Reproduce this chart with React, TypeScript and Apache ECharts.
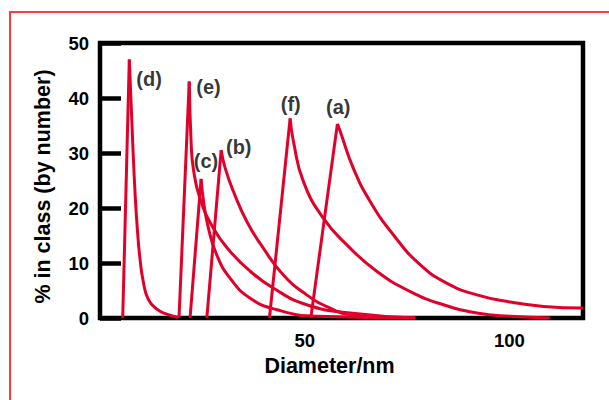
import React, { useEffect, useRef } from "react";
import * as echarts from "echarts";

// Diameter (nm) vs % in class (by number)
const curveD = [[5.55, 0], [7.16, 47.0], [7.99, 31.9], [8.56, 22.8], [9.13, 16.1], [9.78, 10.7], [10.6, 6.5], [11.8, 3.4], [13.9, 1.6], [16.3, 0.7], [19.1, 0.1]];
const curveE = [[19.3, 0], [21.8, 43.0], [22.25, 32.1], [22.8, 27.2], [24.4, 21.8], [27.7, 16.3], [31.8, 12.1], [36.7, 8.5], [42.4, 5.4], [50.5, 2.4], [61.1, 0.9], [77, 0]];
const curveC = [[22.0, 0], [24.7, 25.3], [25.3, 21.2], [26.5, 16.3], [28.5, 11.5], [31.8, 7.2], [36.7, 3.6], [43.2, 1.5], [53.0, 0.3], [77, 0]];
const curveB = [[26.1, 0], [29.6, 30.5], [30.6, 27.2], [32.6, 23.0], [35.9, 17.5], [39.9, 12.7], [44.8, 7.8], [50.5, 4.2], [56.2, 1.8], [61.1, 0.6], [77, 0]];
const curveF = [[41.4, 0], [46.45, 36.3], [47.26, 32.1], [49.7, 24.8], [54.6, 18.1], [60.3, 13.3], [67.6, 8.5], [75.8, 4.8], [83.9, 2.4], [92.1, 0.9], [100.2, 0.3], [110, 0]];
const curveA = [[51.5, 0], [58.0, 35.3], [58.7, 33.9], [61.9, 27.2], [66.0, 21.2], [71.7, 15.1], [78.2, 9.7], [84.8, 6.3], [92.1, 4.2], [100.2, 2.9], [108.4, 2.1], [118, 1.8]];

const curves = [
  { name: "(a)", pts: curveA },
  { name: "(b)", pts: curveB },
  { name: "(c)", pts: curveC },
  { name: "(d)", pts: curveD },
  { name: "(e)", pts: curveE },
  { name: "(f)", pts: curveF },
];

// curve label anchors [diameter, percent, text]
const labelPoints = [
  [58.2, 38.4, "(a)"],
  [33.9, 31.1, "(b)"],
  [25.9, 28.5, "(c)"],
  [12.0, 43.5, "(d)"],
  [26.5, 42.0, "(e)"],
  [46.6, 39.0, "(f)"],
];

const xTickLabels = [50, 100];
const xMin = 0;
const xMax = 118;
const yMin = 0;
const yMax = 50;

const RED = "#e0002a";
const FONT = "'Liberation Sans', Arial, sans-serif";

export default function App() {
  const ref = useRef<HTMLDivElement>(null);
  useEffect(() => {
    if (!ref.current) return;
    const chart = echarts.init(ref.current, null, { renderer: "svg" });
    const series: any[] = [];
    curves.forEach((c) => {
      let peak = 0;
      c.pts.forEach((p, i) => {
        if (p[1] > c.pts[peak][1]) peak = i;
      });
      series.push({
        name: c.name + " rise",
        type: "line",
        data: c.pts.slice(0, peak + 1),
        symbol: "none",
        smooth: false,
        silent: true,
        lineStyle: { color: RED, width: 3 },
        z: 3,
      });
      series.push({
        name: c.name,
        type: "line",
        data: c.pts.slice(peak),
        symbol: "none",
        smooth: 0.5,
        silent: true,
        lineStyle: { color: RED, width: 3 },
        z: 3,
      });
    });
    series.push({
      type: "scatter",
      data: labelPoints,
      symbolSize: 1,
      itemStyle: { color: "transparent" },
      silent: true,
      label: {
        show: true,
        position: "inside",
        formatter: (p: any) => p.value[2],
        fontFamily: FONT,
        fontSize: 20,
        fontWeight: "bold",
        color: "#000",
      },
      z: 4,
    });
    chart.setOption({
      animation: false,
      backgroundColor: "#fff",
      grid: {
        left: 100,
        right: 26,
        top: 43,
        bottom: 82,
        show: true,
        borderColor: "#000",
        borderWidth: 4.5,
        backgroundColor: "transparent",
      },
      xAxis: {
        type: "value",
        min: xMin,
        max: xMax,
        interval: 50,
        axisLine: { show: false },
        axisTick: { show: false },
        splitLine: { show: false },
        axisLabel: {
          formatter: (v: number) => (xTickLabels.includes(v) ? String(v) : ""),
          margin: 13,
          fontFamily: FONT,
          fontSize: 18.5,
          fontWeight: "bold",
          color: "#000",
        },
        name: "Diameter/nm",
        nameLocation: "middle",
        nameGap: 36,
        nameTextStyle: {
          fontFamily: FONT,
          fontSize: 21.5,
          fontWeight: "bold",
          color: "#000",
          padding: [0, 24, 0, 0],
        },
      },
      yAxis: {
        type: "value",
        min: yMin,
        max: yMax,
        interval: 10,
        axisLine: { show: false },
        axisTick: { show: true, inside: true, length: 21, lineStyle: { color: "#000", width: 4.5 } },
        splitLine: { show: false },
        axisLabel: {
          margin: 11,
          fontFamily: FONT,
          fontSize: 18.5,
          fontWeight: "bold",
          color: "#000",
        },
        name: "% in class (by number)",
        nameLocation: "middle",
        nameGap: 46,
        nameTextStyle: {
          fontFamily: FONT,
          fontSize: 21.5,
          fontWeight: "bold",
          color: "#000",
          padding: [0, 12, 0, 0],
        },
      },
      graphic: [
        {
          type: "rect",
          silent: true,
          shape: { x: 10, y: 12, width: 700, height: 500 },
          style: { fill: "none", stroke: "#ff3b3b", lineWidth: 2 },
        },
      ],
      series,
    });
    return () => chart.dispose();
  }, []);
  return (
    <div
      ref={ref}
      style={{ position: "fixed", left: 0, top: 0, width: 609, height: 400 }}
    />
  );
}
